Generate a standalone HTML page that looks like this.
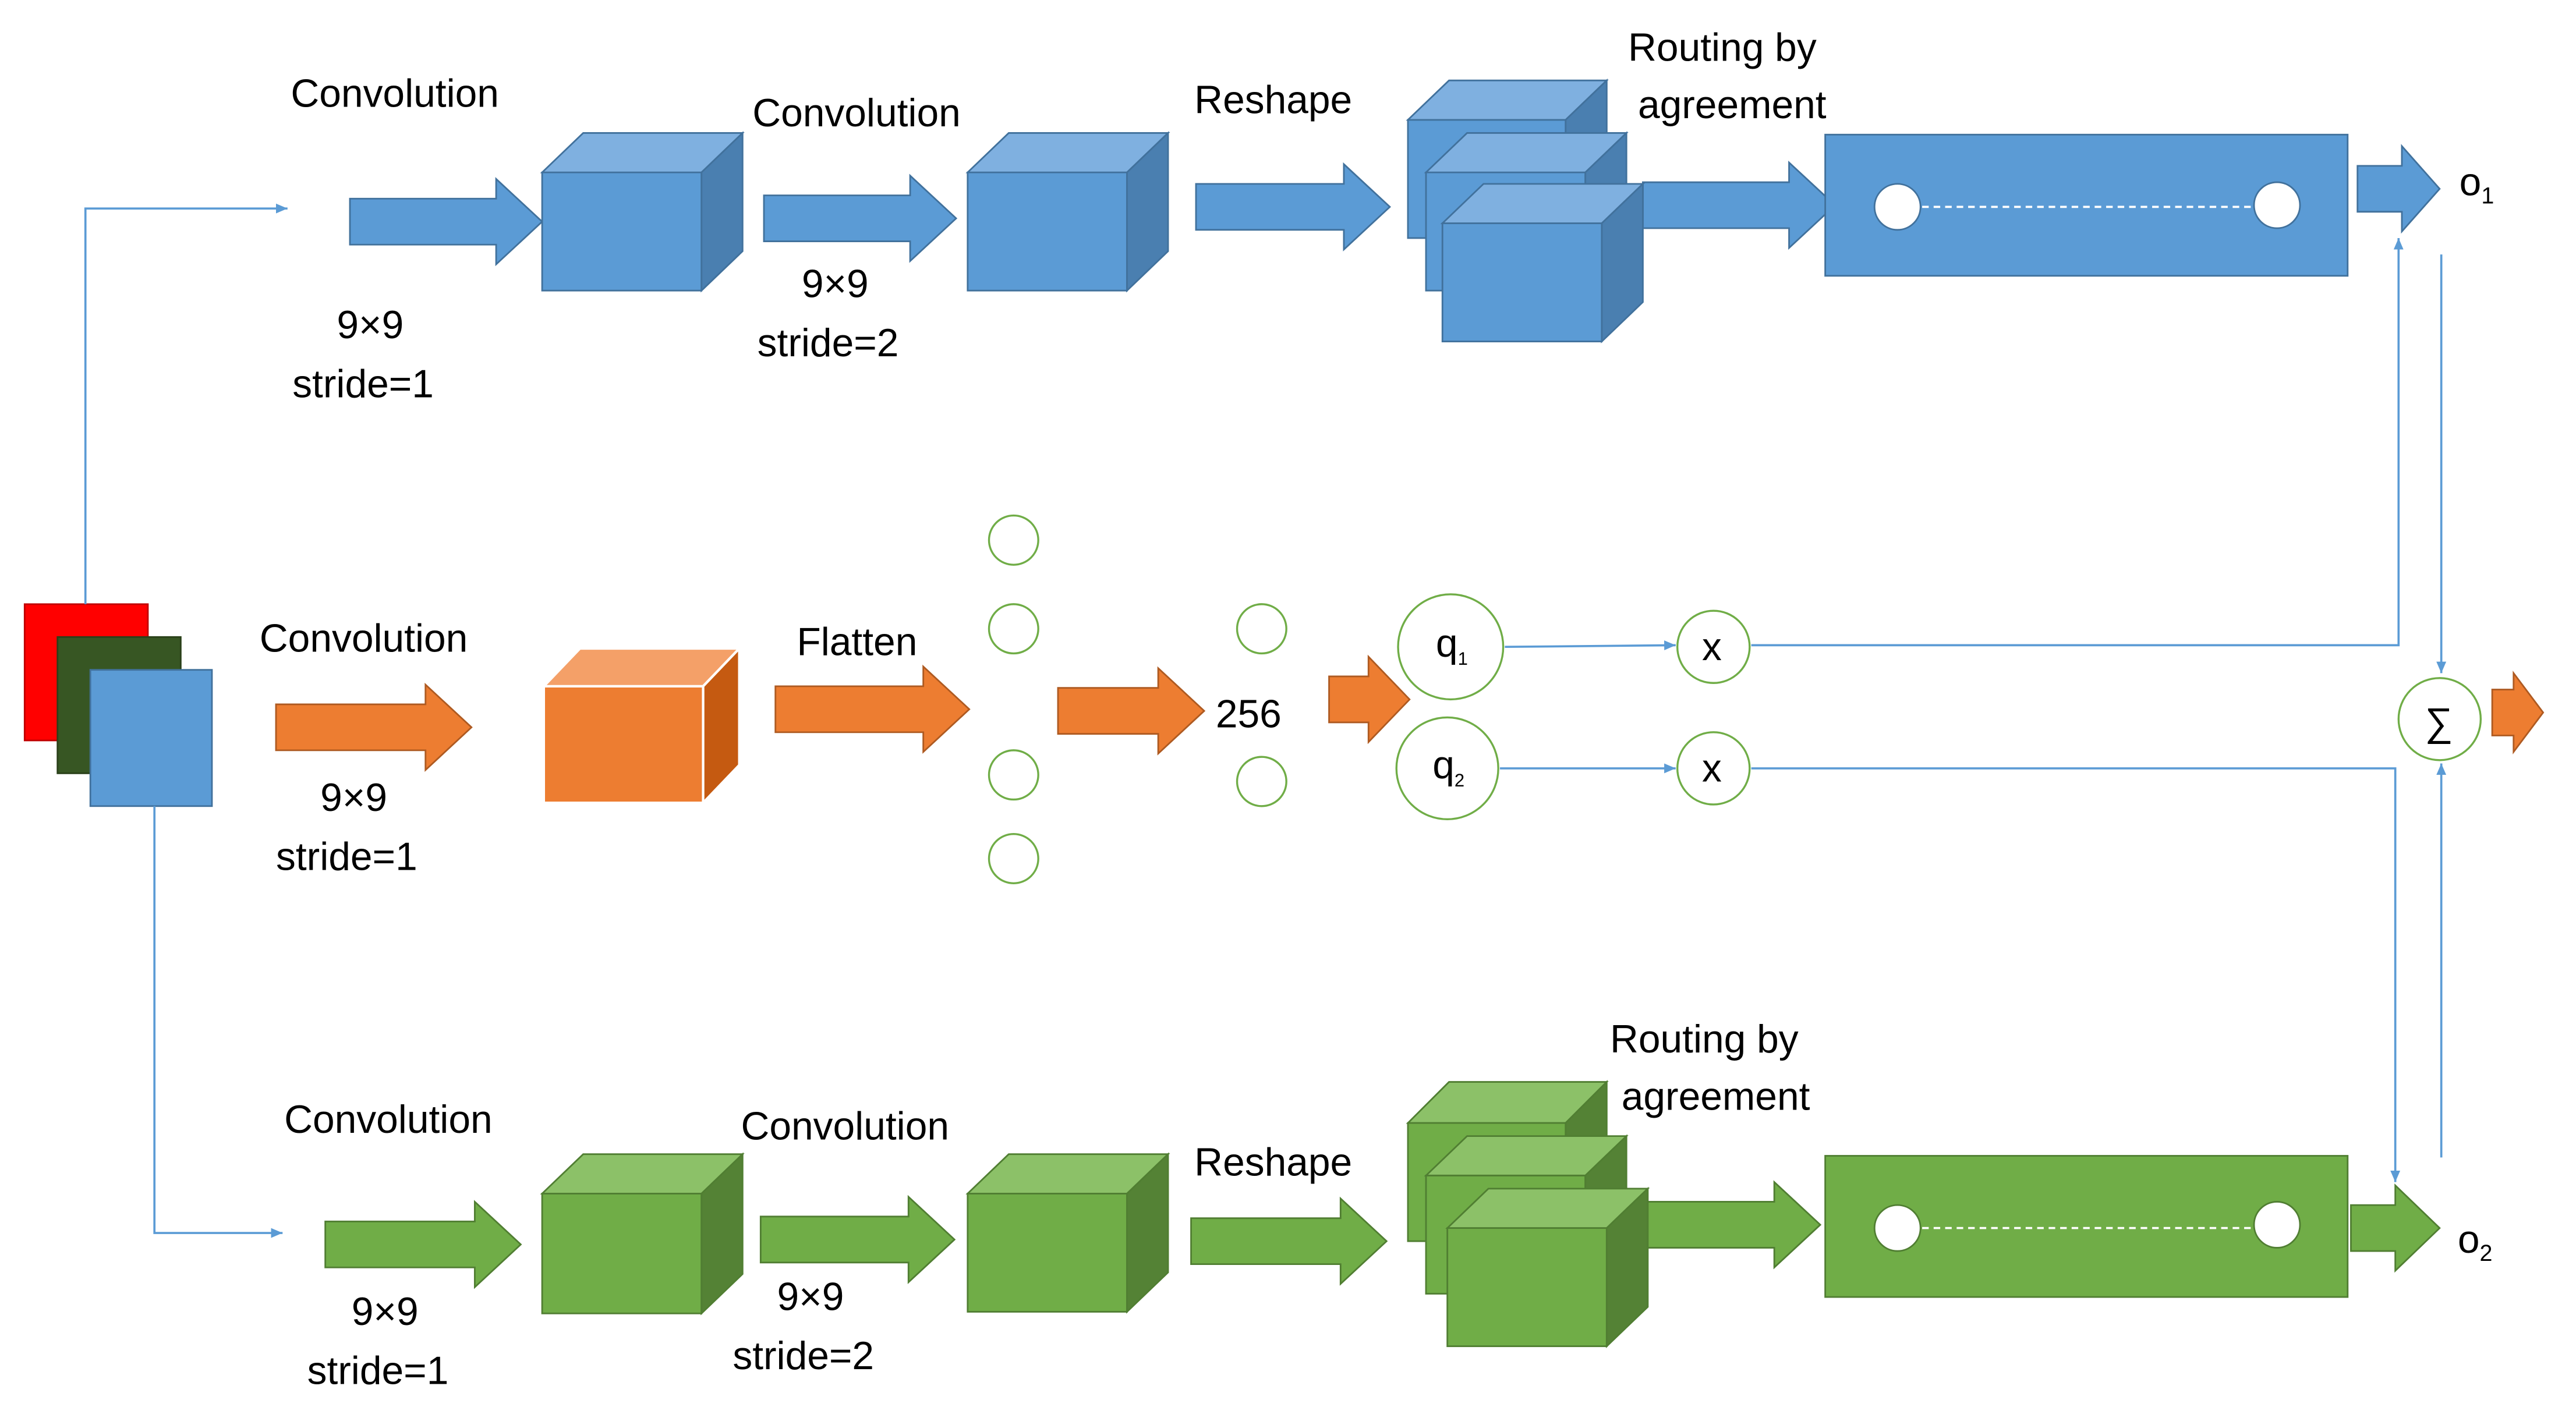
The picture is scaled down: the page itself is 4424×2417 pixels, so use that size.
<!DOCTYPE html>
<html><head><meta charset="utf-8"><style>
html,body{margin:0;padding:0;background:#fff;width:4424px;height:2417px;overflow:hidden}
svg{display:block}
text{font-family:"Liberation Sans",sans-serif;font-size:24px;fill:#000}
</style></head><body>
<svg width="4424" height="2417" viewBox="0 0 1568 857" preserveAspectRatio="none" xmlns="http://www.w3.org/2000/svg">
<defs>
<marker id="ab" markerWidth="8" markerHeight="8" refX="7" refY="4" orient="auto" markerUnits="userSpaceOnUse"><path d="M0,1 L7,4 L0,7 z" fill="#5b9bd5"/></marker>
</defs>
<rect width="1568" height="857" fill="#fff"/>
<rect x="15" y="368" width="75" height="83" fill="#ff0000" stroke="#c00000"/>
<rect x="35" y="388" width="75" height="83" fill="#375623" stroke="#2a4019"/>
<rect x="55" y="408" width="74" height="83" fill="#5b9bd5" stroke="#41719c"/>
<g stroke="#5b9bd5" stroke-width="1.3" fill="none">
<polyline points="52,368 52,127 175,127" marker-end="url(#ab)"/>
<polyline points="94,491 94,751 172,751" marker-end="url(#ab)"/>
<line x1="916" y1="394" x2="1020" y2="393" marker-end="url(#ab)"/>
<line x1="913" y1="468" x2="1020" y2="468" marker-end="url(#ab)"/>
<polyline points="1066,393 1460,393 1460,145" marker-end="url(#ab)"/>
<polyline points="1066,468 1458,468 1458,720" marker-end="url(#ab)"/>
<line x1="1486" y1="155" x2="1486" y2="410" marker-end="url(#ab)"/>
<line x1="1486" y1="705" x2="1486" y2="465" marker-end="url(#ab)"/>
</g>
<g fill="#5b9bd5" stroke="#41719c" stroke-width="1">
<polygon points="213,121 302,121 302,109 330,135 302,161 302,149 213,149"/>
<polygon points="465,119 554,119 554,107 582,133 554,159 554,147 465,147"/>
<polygon points="728,112 818,112 818,100 846,126 818,152 818,140 728,140"/>
<polygon points="1000,111 1089,111 1089,99 1117,125 1089,151 1089,139 1000,139"/>
<polygon points="1435,101 1462,101 1462,89 1485,115 1462,141 1462,129 1435,129"/>
</g>
<g stroke="#41719c" stroke-width="1">
<rect x="330" y="105" width="97" height="72" fill="#5b9bd5"/><polygon points="330,105 355,81 452,81 427,105" fill="#7fb0e0"/><polygon points="427,105 452,81 452,153 427,177" fill="#4a7fb0"/>
<rect x="589" y="105" width="97" height="72" fill="#5b9bd5"/><polygon points="589,105 614,81 711,81 686,105" fill="#7fb0e0"/><polygon points="686,105 711,81 711,153 686,177" fill="#4a7fb0"/>
<rect x="857" y="73" width="96" height="72" fill="#5b9bd5"/><polygon points="857,73 882,49 978,49 953,73" fill="#7fb0e0"/><polygon points="953,73 978,49 978,121 953,145" fill="#4a7fb0"/>
<rect x="868" y="105" width="97" height="72" fill="#5b9bd5"/><polygon points="868,105 893,81 990,81 965,105" fill="#7fb0e0"/><polygon points="965,105 990,81 990,153 965,177" fill="#4a7fb0"/>
<rect x="878" y="136" width="97" height="72" fill="#5b9bd5"/><polygon points="878,136 903,112 1000,112 975,136" fill="#7fb0e0"/><polygon points="975,136 1000,112 1000,184 975,208" fill="#4a7fb0"/>
<rect x="1111" y="82" width="318" height="86" fill="#5b9bd5"/>
</g>
<line x1="1170" y1="126" x2="1371" y2="126" stroke="#fff" stroke-dasharray="4,3" stroke-width="1.3"/>
<circle cx="1155" cy="126" r="14" fill="#fff" stroke="#41719c"/>
<circle cx="1386" cy="125" r="14" fill="#fff" stroke="#41719c"/>
<g fill="#ed7d31" stroke="#ae5a21" stroke-width="1">
<polygon points="168,429 259,429 259,417 287,443 259,469 259,457 168,457"/>
<polygon points="472,418 562,418 562,406 590,432 562,458 562,446 472,446"/>
<polygon points="644,419 705,419 705,407 733,433 705,459 705,447 644,447"/>
<polygon points="809,412 833,412 833,400 858,426 833,452 833,440 809,440"/>
<polygon points="1517,420 1530,420 1530,410 1548,434 1530,458 1530,448 1517,448"/>
</g>
<g stroke="#fff" stroke-width="1.5">
<rect x="331" y="418" width="97" height="71" fill="#ed7d31"/><polygon points="331,418 353,395 450,395 428,418" fill="#f4a068"/><polygon points="428,418 450,395 450,466 428,489" fill="#c55a11"/>
</g>
<g fill="#fff" stroke="#70ad47" stroke-width="1.2">
<circle cx="617" cy="329" r="15"/><circle cx="617" cy="383" r="15"/><circle cx="617" cy="472" r="15"/><circle cx="617" cy="523" r="15"/>
<circle cx="768" cy="383" r="15"/><circle cx="768" cy="476" r="15"/>
<circle cx="883" cy="394" r="32"/><circle cx="881" cy="468" r="31"/>
<circle cx="1043" cy="394" r="22"/><circle cx="1043" cy="468" r="22"/>
<circle cx="1485" cy="438" r="25"/>
</g>
<g fill="#70ad47" stroke="#507e32" stroke-width="1">
<polygon points="198,744 289,744 289,732 317,758 289,784 289,772 198,772"/>
<polygon points="463,741 553,741 553,729 581,755 553,781 553,769 463,769"/>
<polygon points="725,742 816,742 816,730 844,756 816,782 816,770 725,770"/>
<polygon points="990,732 1080,732 1080,720 1108,746 1080,772 1080,760 990,760"/>
<polygon points="1431,734 1458,734 1458,722 1485,748 1458,774 1458,762 1431,762"/>
</g>
<g stroke="#507e32" stroke-width="1">
<rect x="330" y="727" width="97" height="73" fill="#70ad47"/><polygon points="330,727 355,703 452,703 427,727" fill="#8cc168"/><polygon points="427,727 452,703 452,776 427,800" fill="#548235"/>
<rect x="589" y="727" width="97" height="72" fill="#70ad47"/><polygon points="589,727 614,703 711,703 686,727" fill="#8cc168"/><polygon points="686,727 711,703 711,775 686,799" fill="#548235"/>
<rect x="857" y="684" width="96" height="72" fill="#70ad47"/><polygon points="857,684 882,659 978,659 953,684" fill="#8cc168"/><polygon points="953,684 978,659 978,732 953,756" fill="#548235"/>
<rect x="868" y="716" width="97" height="72" fill="#70ad47"/><polygon points="868,716 893,692 990,692 965,716" fill="#8cc168"/><polygon points="965,716 990,692 990,764 965,788" fill="#548235"/>
<rect x="881" y="748" width="97" height="72" fill="#70ad47"/><polygon points="881,748 906,724 1003,724 978,748" fill="#8cc168"/><polygon points="978,748 1003,724 1003,796 978,820" fill="#548235"/>
<rect x="1111" y="704" width="318" height="86" fill="#70ad47"/>
</g>
<line x1="1170" y1="748" x2="1371" y2="748" stroke="#fff" stroke-dasharray="4,3" stroke-width="1.3"/>
<circle cx="1155" cy="748" r="14" fill="#fff" stroke="#507e32"/>
<circle cx="1386" cy="746" r="14" fill="#fff" stroke="#507e32"/>
<text x="177" y="65">Convolution</text>
<text x="458" y="77">Convolution</text>
<text x="727" y="69">Reshape</text>
<text x="991" y="37">Routing by</text>
<text x="997" y="72">agreement</text>
<text x="205" y="206">9×9</text>
<text x="178" y="242">stride=1</text>
<text x="488" y="181">9×9</text>
<text x="461" y="217">stride=2</text>
<text x="1497" y="119">o<tspan font-size="14" dy="5">1</tspan></text>
<text x="158" y="397">Convolution</text>
<text x="485" y="399">Flatten</text>
<text x="195" y="494">9×9</text>
<text x="168" y="530">stride=1</text>
<text x="740" y="443">256</text>
<text x="874" y="400" font-size="18">q<tspan font-size="11" dy="5">1</tspan></text>
<text x="872" y="474" font-size="18">q<tspan font-size="11" dy="5">2</tspan></text>
<text x="1036" y="402" font-size="20">x</text>
<text x="1036" y="476" font-size="20">x</text>
<text x="1476" y="448" font-size="26">∑</text>
<text x="173" y="690">Convolution</text>
<text x="451" y="694">Convolution</text>
<text x="727" y="716">Reshape</text>
<text x="980" y="641">Routing by</text>
<text x="987" y="676">agreement</text>
<text x="214" y="807">9×9</text>
<text x="187" y="843">stride=1</text>
<text x="473" y="798">9×9</text>
<text x="446" y="834">stride=2</text>
<text x="1496" y="763">o<tspan font-size="14" dy="5">2</tspan></text>
</svg>
</body></html>
